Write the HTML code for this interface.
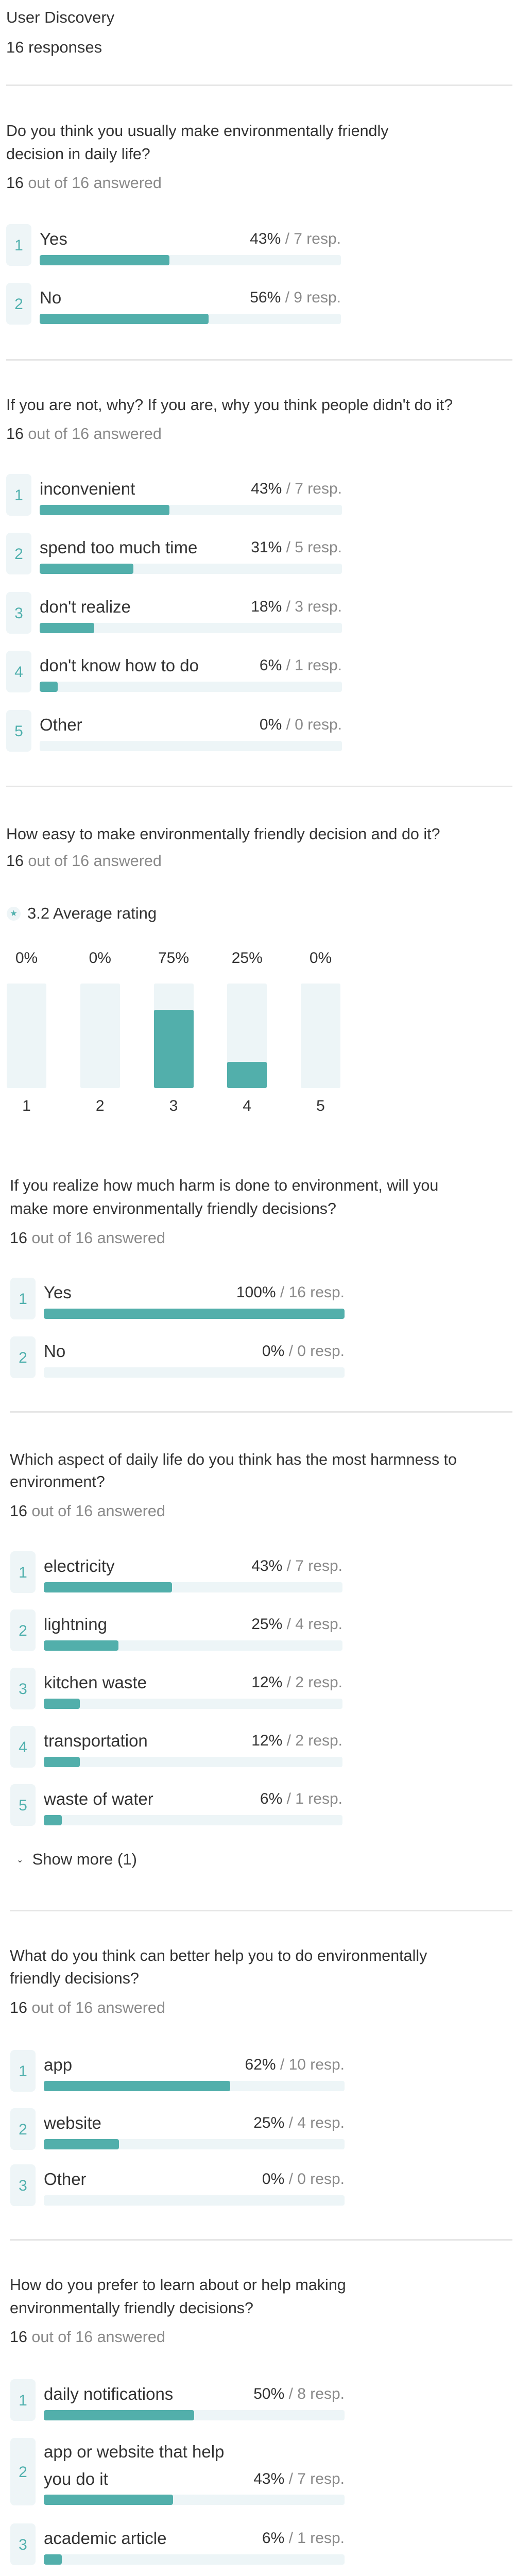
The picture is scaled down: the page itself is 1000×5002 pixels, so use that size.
<!DOCTYPE html>
<html><head><meta charset="utf-8">
<style>
html{width:1000px;height:5002px;overflow:hidden;}
html,body{margin:0;padding:0;background:#fff;}
body{width:1000px;height:5002px;position:relative;overflow:hidden;font-family:"Liberation Sans",sans-serif;color:#333;}
.t{position:absolute;white-space:nowrap;line-height:40px;height:40px;}
.div{position:absolute;height:3px;background:#e6e6e6;right:5px;}
.box{position:absolute;background:#eef5f7;border-radius:8px;width:49px;}
.num{position:absolute;color:#4fb0ad;font-size:30px;width:49px;text-align:center;line-height:40px;}
.track{position:absolute;background:#edf5f7;border-radius:4px;height:20px;overflow:hidden;}
.fill{position:absolute;left:0;top:0;bottom:0;background:#52afab;border-radius:4px;}
.g{color:#8a8a8a;}
.q{font-size:30.5px;}
.lab{font-size:33px;}
.pct{font-size:30px;text-align:right;}
.col{position:absolute;background:#edf5f7;border-radius:3px;}
</style></head>
<body>
<div class="t" style="left:12px;top:14px;font-size:31px">User Discovery</div>
<div class="t" style="left:12px;top:72px;font-size:31px">16 responses</div>
<div class="div" style="left:12px;top:164px"></div>

<script>
// ---- Data ----
const q1Labels = ["Yes", "No"];
const q1Pct = [43, 56];
const q1Count = [7, 9];

const q2Labels = ["inconvenient", "spend too much time", "don't realize", "don't know how to do", "Other"];
const q2Pct = [43, 31, 18, 6, 0];
const q2Count = [7, 5, 3, 1, 0];

const q3Ratings = ["1", "2", "3", "4", "5"];
const q3Pct = [0, 0, 75, 25, 0];
const q3Average = "3.2";

const q4Labels = ["Yes", "No"];
const q4Pct = [100, 0];
const q4Count = [16, 0];

const q5Labels = ["electricity", "lightning", "kitchen waste", "transportation", "waste of water"];
const q5Pct = [43, 25, 12, 12, 6];
const q5Count = [7, 4, 2, 2, 1];

const q6Labels = ["app", "website", "Other"];
const q6Pct = [62, 25, 0];
const q6Count = [10, 4, 0];

const q7Labels = ["daily notifications", "app or website that help|you do it", "academic article"];
const q7Pct = [50, 43, 6];
const q7Count = [8, 7, 1];

const body = document.body;
function mk(cls, style, text) {
  const e = document.createElement('div');
  e.className = cls;
  e.setAttribute('style', style);
  if (text !== undefined) e.textContent = text;
  body.appendChild(e);
  return e;
}

function question(lines, x, centers, ansCenter) {
  lines.forEach((ln, i) => {
    const e = mk('t q', `left:${x}px;top:${centers[i]-20}px`, ln);
    
    
  });
  const a = mk('t q', `left:${x}px;top:${ansCenter-20}px`);
  
  
  a.innerHTML = '16 <span class="g">out of 16 answered</span>';
}

function divider(x, y) {
  const d = mk('div', `left:${x}px;top:${y}px`);
  
  
}

function options(labels, pct, count, x, tops, barEnd) {
  const lx = x + 65;
  const tw = barEnd - lx;
  labels.forEach((lab, i) => {
    const T = tops[i];
    const parts = lab.split('|');
    const two = parts.length > 1;
    const h = two ? 131 : 81;
    const b = mk('box', `left:${x}px;top:${T}px;height:${h}px`);
    
    
    const n = mk('num', `left:${x}px;top:${T + h/2 - 20 + 1}px`, String(i + 1));
    
    
    parts.forEach((p, j) => {
      const l = mk('t lab', `left:${lx}px;top:${T + 29 - 20 + j*53 - (two?2:0)}px`, p);
      
      
    });
    const pc = mk('t pct', `left:${lx}px;width:${tw}px;top:${T + 29 - 20 + (two?51:0)}px`);
    
    
    pc.innerHTML = pct[i] + '% <span class="g">/ ' + count[i] + ' resp.</span>';
    const tr = mk('track', `left:${lx}px;top:${T + h - 21}px;width:${tw}px`);
    
    
    const f = document.createElement('div');
    f.className = 'fill';
    f.style.width = (pct[i] / 100 * tw) + 'px';
    
    
    if (pct[i] > 0) tr.appendChild(f);
  });
}

// Q1
question(["Do you think you usually make environmentally friendly", "decision in daily life?"], 12, [254, 299], 355);
options(q1Labels, q1Pct, q1Count, 12, [435, 549], 662);
divider(12, 697);

// Q2
question(["If you are not, why? If you are, why you think people didn't do it?"], 12, [786], 842);
options(q2Labels, q2Pct, q2Count, 12, [920, 1034, 1149, 1263, 1378], 664);
divider(12, 1525);

// Q3 rating
question(["How easy to make environmentally friendly decision and do it?"], 12, [1619], 1671);
(function(){
  const c = mk('', 'position:absolute;left:13px;top:1760px;width:27px;height:27px;border-radius:50%;background:#eef5f7;color:#4fb0ad;font-size:16px;line-height:27px;text-align:center', '★');
  
  
  const a = mk('t', 'left:53px;top:1753px;font-size:31px', q3Average + ' Average rating');
  
  
  const x0 = 13, step = 142.75, w = 77, top = 1909, h = 203;
  q3Ratings.forEach((r, i) => {
    const x = x0 + i * step;
    const col = mk('col', `left:${x}px;top:${top}px;width:${w}px;height:${h}px`);
    
    
    if (q3Pct[i] > 0) {
      const fh = q3Pct[i] / 100 * h;
      const f = mk('', `position:absolute;left:${x}px;top:${top + h - fh}px;width:${w}px;height:${fh}px;background:#52afab;border-radius:3px`);
      
      
    }
    const p = mk('t', `left:${x - 20}px;width:${w + 40}px;text-align:center;top:1840px;font-size:30px`, q3Pct[i] + '%');
    
    
    const l = mk('t', `left:${x}px;width:${w}px;text-align:center;top:2127px;font-size:30px`, r);
    
    
  });
})();

// Q4
question(["If you realize how much harm is done to environment, will you", "make more environmentally friendly decisions?"], 19, [2301, 2346], 2403);
options(q4Labels, q4Pct, q4Count, 20, [2480, 2594], 669);
divider(19, 2739);

// Q5
question(["Which aspect of daily life do you think has the most harmness to", "environment?"], 19, [2833, 2876], 2933);
options(q5Labels, q5Pct, q5Count, 20, [3011, 3124, 3237, 3350, 3463], 665);
(function(){
  const s = mk('t', 'left:32px;top:3589px;font-size:31px', '');
  
  
  s.innerHTML = '<span style="font-size:16px;position:relative;top:-4px">&#8964;</span>&nbsp; Show more (1)';
})();
divider(19, 3707);

// Q6
question(["What do you think can better help you to do environmentally", "friendly decisions?"], 19, [3796, 3840], 3897);
options(q6Labels, q6Pct, q6Count, 20, [3979, 4092, 4201], 669);
divider(19, 4346);

// Q7
question(["How do you prefer to learn about or help making", "environmentally friendly decisions?"], 19, [4435, 4480], 4536);
options(q7Labels, q7Pct, q7Count, 20, [4618, 4732, 4898], 669);
</script>
</body></html>
